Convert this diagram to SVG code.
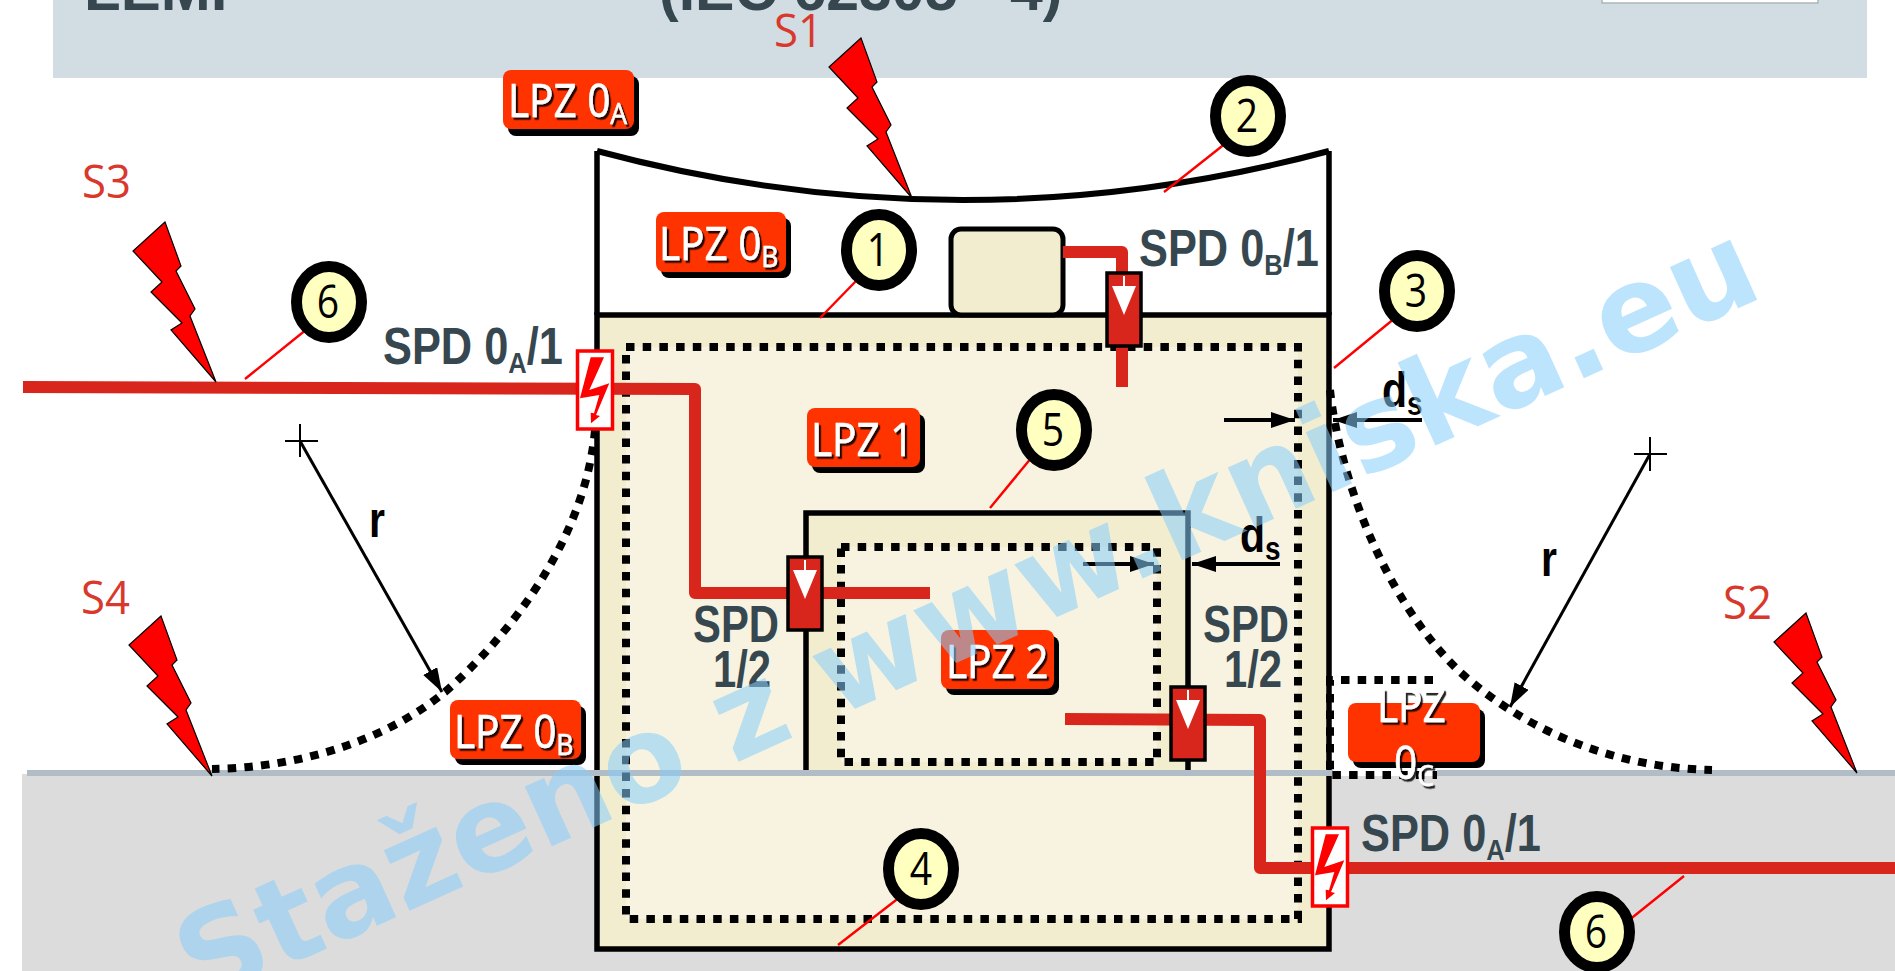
<svg xmlns="http://www.w3.org/2000/svg" width="1895" height="971" viewBox="0 0 1895 971">
<style>
.wire{fill:none;stroke:#d9261c;stroke-width:12;stroke-linejoin:round}
.dot{fill:none;stroke:#000;stroke-width:8;stroke-dasharray:8.5 8.2}
.lead{stroke:#f00;stroke-width:2.4;fill:none}
.wall{stroke:#000;stroke-width:5.5}
.lpzbox{fill:#ff3300}
.lpzsh{fill:#000}
.lpzt{font-family:"Open Sans",sans-serif;font-size:46px;fill:#fff;stroke:#fff;stroke-width:.6;filter:url(#ts)}
.lpzt tspan.s,.spd tspan.s{font-size:30px}
.spd{font-family:"Liberation Sans",sans-serif;font-weight:700;font-size:51px;fill:#37474f}
.dim{font-family:"Liberation Sans",sans-serif;font-weight:700;font-size:50px;fill:#000}
.strike{font-family:"Open Sans",sans-serif;font-size:46px;fill:#d9392c}
.n{fill:#ffffc0;stroke:#000;stroke-width:11}
.nt{font-family:"Open Sans",sans-serif;font-size:46px;fill:#000;text-anchor:middle}
.bolt{fill:#f00;stroke:#000;stroke-width:1.2}
.spdbox{fill:#d9261c;stroke:#000;stroke-width:3.5}
.spdw{fill:#fff;stroke:#f00;stroke-width:3.5}
.thin{stroke:#000;stroke-width:3;fill:none}
.ds{stroke:#000;stroke-width:4;fill:none}
</style>
<defs>
<filter id="ts" x="-15%" y="-15%" width="130%" height="140%"><feDropShadow dx="2.5" dy="2.5" stdDeviation="0.7" flood-color="#000" flood-opacity=".85"/></filter>
<polygon id="b" class="bolt" points="0,0 -32,29 -3,60 -14,70 17,101 6,108 51,160 25,94 30,87 11,49 16,44"/>
<g id="ar"><rect x="-17" y="-37" width="34" height="73" class="spdbox"/><path d="M-1 -34H1V-24H12L0 5L-12 -24H-1Z" fill="#fff"/></g>
<g id="sw"><rect x="-17.500" y="-39" width="35" height="78" class="spdw"/><path d="M-4.300 -32.700H9L-5.700 0L14.300 -6.700L1 25L5 26L-4 33.300L-4.300 22.700L-1 23.300L4.300 5L-15 8.300Z" fill="#f00"/></g>
<marker id="ah" viewBox="0 0 24 16" refX="24" refY="8" markerWidth="24" markerHeight="16" markerUnits="userSpaceOnUse" orient="auto"><path d="M0 0L24 8L0 16Z" fill="#000"/></marker>
</defs>
<rect width="1895" height="971" fill="#fff"/>
<g id="header">
<rect x="53" y="0" width="1814" height="78" fill="#d1dce3"/>
<rect x="1602" y="-4" width="216" height="7" fill="#fff" stroke="#a9b6bd" stroke-width="1.500"/>
<text x="84" y="10" font-family="Liberation Sans,sans-serif" font-weight="700" font-size="60" fill="#37474f">LEMP</text>
<text x="659" y="10" font-family="Liberation Sans,sans-serif" font-weight="700" font-size="59" fill="#37474f">(IEC 62305 - 4)</text>
</g>
<g id="ground"><rect x="22" y="774" width="1873" height="197" fill="#dcdcdc"/></g>
<g id="building">
<path d="M597 151Q963 249 1329 151" fill="none" stroke="#000" stroke-width="6"/>
<path d="M597 151V315M1329 151V315" class="wall"/>
<rect x="597" y="315" width="732" height="634" fill="#f3edd0" class="wall"/>
<rect x="626" y="347" width="672" height="572" fill="#f7f3e0"/>
<rect x="806" y="513" width="382" height="258" fill="#f3edd0"/>
<rect x="841" y="547" width="316" height="215" fill="#f7f3e0"/>
<path d="M806 771V513H1188V771" fill="none" class="wall"/>
<rect x="951" y="229" width="112" height="86" rx="10" fill="#f3edd0" stroke="#000" stroke-width="5"/>
</g>
<rect id="ground-line" x="27" y="770" width="1868" height="6" fill="#b0bcc6"/>
<rect id="zone-0c" x="1333" y="681" width="104" height="95" fill="#fff"/>
<g id="zones">
<rect x="626" y="347" width="672" height="572" class="dot"/>
<rect x="841" y="547" width="316" height="215" class="dot"/>
<path d="M595 430C585 540 510 635 445 692C380 745 290 768 212 769" class="dot"/>
<path d="M1330 390C1340 480 1385 600 1460 672C1530 735 1620 768 1712 770" class="dot"/>
<path d="M1433 680H1330V775H1437" class="dot"/>
</g>
<g id="connectors">
<path d="M23 387L695 389V593H930" class="wire"/>
<path d="M1063 252H1122V387" class="wire"/>
<path d="M1065 719L1260 720V868H1895" class="wire"/>
<path d="M858 279L820 318M307 329L245 379M1226 143L1164 192M1395 318L1334 368M1032 457L990 508M900 897L838 945M1623 925L1684 876" class="lead"/>
<path d="M300 441L442 692" class="thin" marker-end="url(#ah)"/>
<path d="M1650 454L1510 707" class="thin" marker-end="url(#ah)"/>
<path d="M285 441H318M300 424V457M1634 454H1667M1650 437V471" stroke="#000" stroke-width="2" fill="none"/>
<path d="M1224 420H1295" class="ds" marker-end="url(#ah)"/>
<path d="M1422 420H1333" class="ds" marker-end="url(#ah)"/>
<path d="M1083 564H1154" class="ds" marker-end="url(#ah)"/>
<path d="M1280 564H1192" class="ds" marker-end="url(#ah)"/>
</g>
<g id="spd-devices">
<use href="#sw" x="595" y="390"/>
<use href="#sw" x="1330" y="867"/>
<use href="#ar" x="1124" y="310"/>
<use href="#ar" x="805" y="594"/>
<use href="#ar" x="1188" y="724"/>
</g>
<g id="strikes">
<use href="#b" x="861" y="38"/>
<use href="#b" x="165" y="222"/>
<use href="#b" x="161" y="616"/>
<use href="#b" x="1806" y="613"/>
<text class="strike" transform="translate(774 47) scale(.95 1)">S1</text>
<text class="strike" transform="translate(82 198) scale(.95 1)">S3</text>
<text class="strike" transform="translate(81 614) scale(.95 1)">S4</text>
<text class="strike" transform="translate(1723 619) scale(.95 1)">S2</text>
</g>
<g id="lpz-0a"><rect x="508" y="76" width="131" height="60" rx="8" class="lpzsh"/><rect x="503" y="70" width="131" height="59" rx="8" class="lpzbox"/><text class="lpzt" transform="translate(508 117) scale(.88 1)">LPZ 0<tspan class="s" dy="7">A</tspan></text></g>
<g id="lpz-0b-roof"><rect x="661" y="218" width="130" height="60" rx="8" class="lpzsh"/><rect x="656" y="212" width="130" height="60" rx="8" class="lpzbox"/><text class="lpzt" transform="translate(659 260) scale(.88 1)">LPZ 0<tspan class="s" dy="7">B</tspan></text></g>
<g id="lpz-1"><rect x="812" y="414" width="113" height="59" rx="8" class="lpzsh"/><rect x="807" y="408" width="113" height="59" rx="8" class="lpzbox"/><text class="lpzt" transform="translate(811 456) scale(.88 1)">LPZ 1</text></g>
<g id="lpz-2"><rect x="946" y="636" width="113" height="59" rx="8" class="lpzsh"/><rect x="941" y="630" width="113" height="59" rx="8" class="lpzbox"/><text class="lpzt" transform="translate(946 678) scale(.88 1)">LPZ 2</text></g>
<g id="lpz-0b-ground"><rect x="455" y="706" width="131" height="59" rx="8" class="lpzsh"/><rect x="450" y="700" width="131" height="59" rx="8" class="lpzbox"/><text class="lpzt" transform="translate(454 748) scale(.88 1)">LPZ 0<tspan class="s" dy="7">B</tspan></text></g>
<g id="lpz-0c"><rect x="1353" y="709" width="132" height="59" rx="8" class="lpzsh"/><rect x="1348" y="703" width="132" height="59" rx="8" class="lpzbox"/><text class="lpzt" transform="translate(1377 722) scale(.88 1)">LPZ</text><text class="lpzt" transform="translate(1394 779) scale(.88 1)">0<tspan class="s" dy="7">C</tspan></text></g>
<g id="labels">
<text class="spd" transform="translate(383 364) scale(.85 1)">SPD 0<tspan class="s" dy="9">A</tspan><tspan dy="-9">/1</tspan></text>
<text class="spd" transform="translate(1139 266) scale(.85 1)">SPD 0<tspan class="s" dy="9">B</tspan><tspan dy="-9">/1</tspan></text>
<text class="spd" transform="translate(1361 851) scale(.85 1)">SPD 0<tspan class="s" dy="9">A</tspan><tspan dy="-9">/1</tspan></text>
<text class="spd" transform="translate(693 642) scale(.82 1)">SPD</text><text class="spd" transform="translate(713 687) scale(.82 1)">1/2</text>
<text class="spd" transform="translate(1203 642) scale(.82 1)">SPD</text><text class="spd" transform="translate(1224 687) scale(.82 1)">1/2</text>
<text class="dim" transform="translate(1382 407) scale(.82 1)">d<tspan font-size="34" dy="8">s</tspan></text>
<text class="dim" transform="translate(1240 552) scale(.82 1)">d<tspan font-size="34" dy="8">s</tspan></text>
<text class="dim" transform="translate(369 537) scale(.82 1)">r</text>
<text class="dim" transform="translate(1541 576) scale(.82 1)">r</text>
</g>
<g id="n1"><ellipse cx="879" cy="250" rx="32.500" ry="35.500" class="n"/><text class="nt" transform="translate(878 266) scale(.85 1)">1</text></g>
<g id="n2"><ellipse cx="1248" cy="116" rx="32.500" ry="35.500" class="n"/><text class="nt" transform="translate(1247 132) scale(.85 1)">2</text></g>
<g id="n3"><ellipse cx="1417" cy="291" rx="32.500" ry="35.500" class="n"/><text class="nt" transform="translate(1416 307) scale(.85 1)">3</text></g>
<g id="n4"><ellipse cx="921" cy="869" rx="32.500" ry="35.500" class="n"/><text class="nt" transform="translate(921 885) scale(.85 1)">4</text></g>
<g id="n5"><ellipse cx="1054" cy="430" rx="32.500" ry="35.500" class="n"/><text class="nt" transform="translate(1053 446) scale(.85 1)">5</text></g>
<g id="n6a"><ellipse cx="329" cy="302" rx="32.500" ry="35.500" class="n"/><text class="nt" transform="translate(328 318) scale(.85 1)">6</text></g>
<g id="n6b"><ellipse cx="1597" cy="932" rx="32.500" ry="35.500" class="n"/><text class="nt" transform="translate(1596 948) scale(.85 1)">6</text></g>
<text id="watermark" transform="translate(200 1006) rotate(-24.4)" font-family="DejaVu Sans,sans-serif" font-weight="700" font-size="120" textLength="1720" lengthAdjust="spacingAndGlyphs" fill="#87cefa" opacity=".55">Staženo z www.kniska.eu</text>
</svg>
